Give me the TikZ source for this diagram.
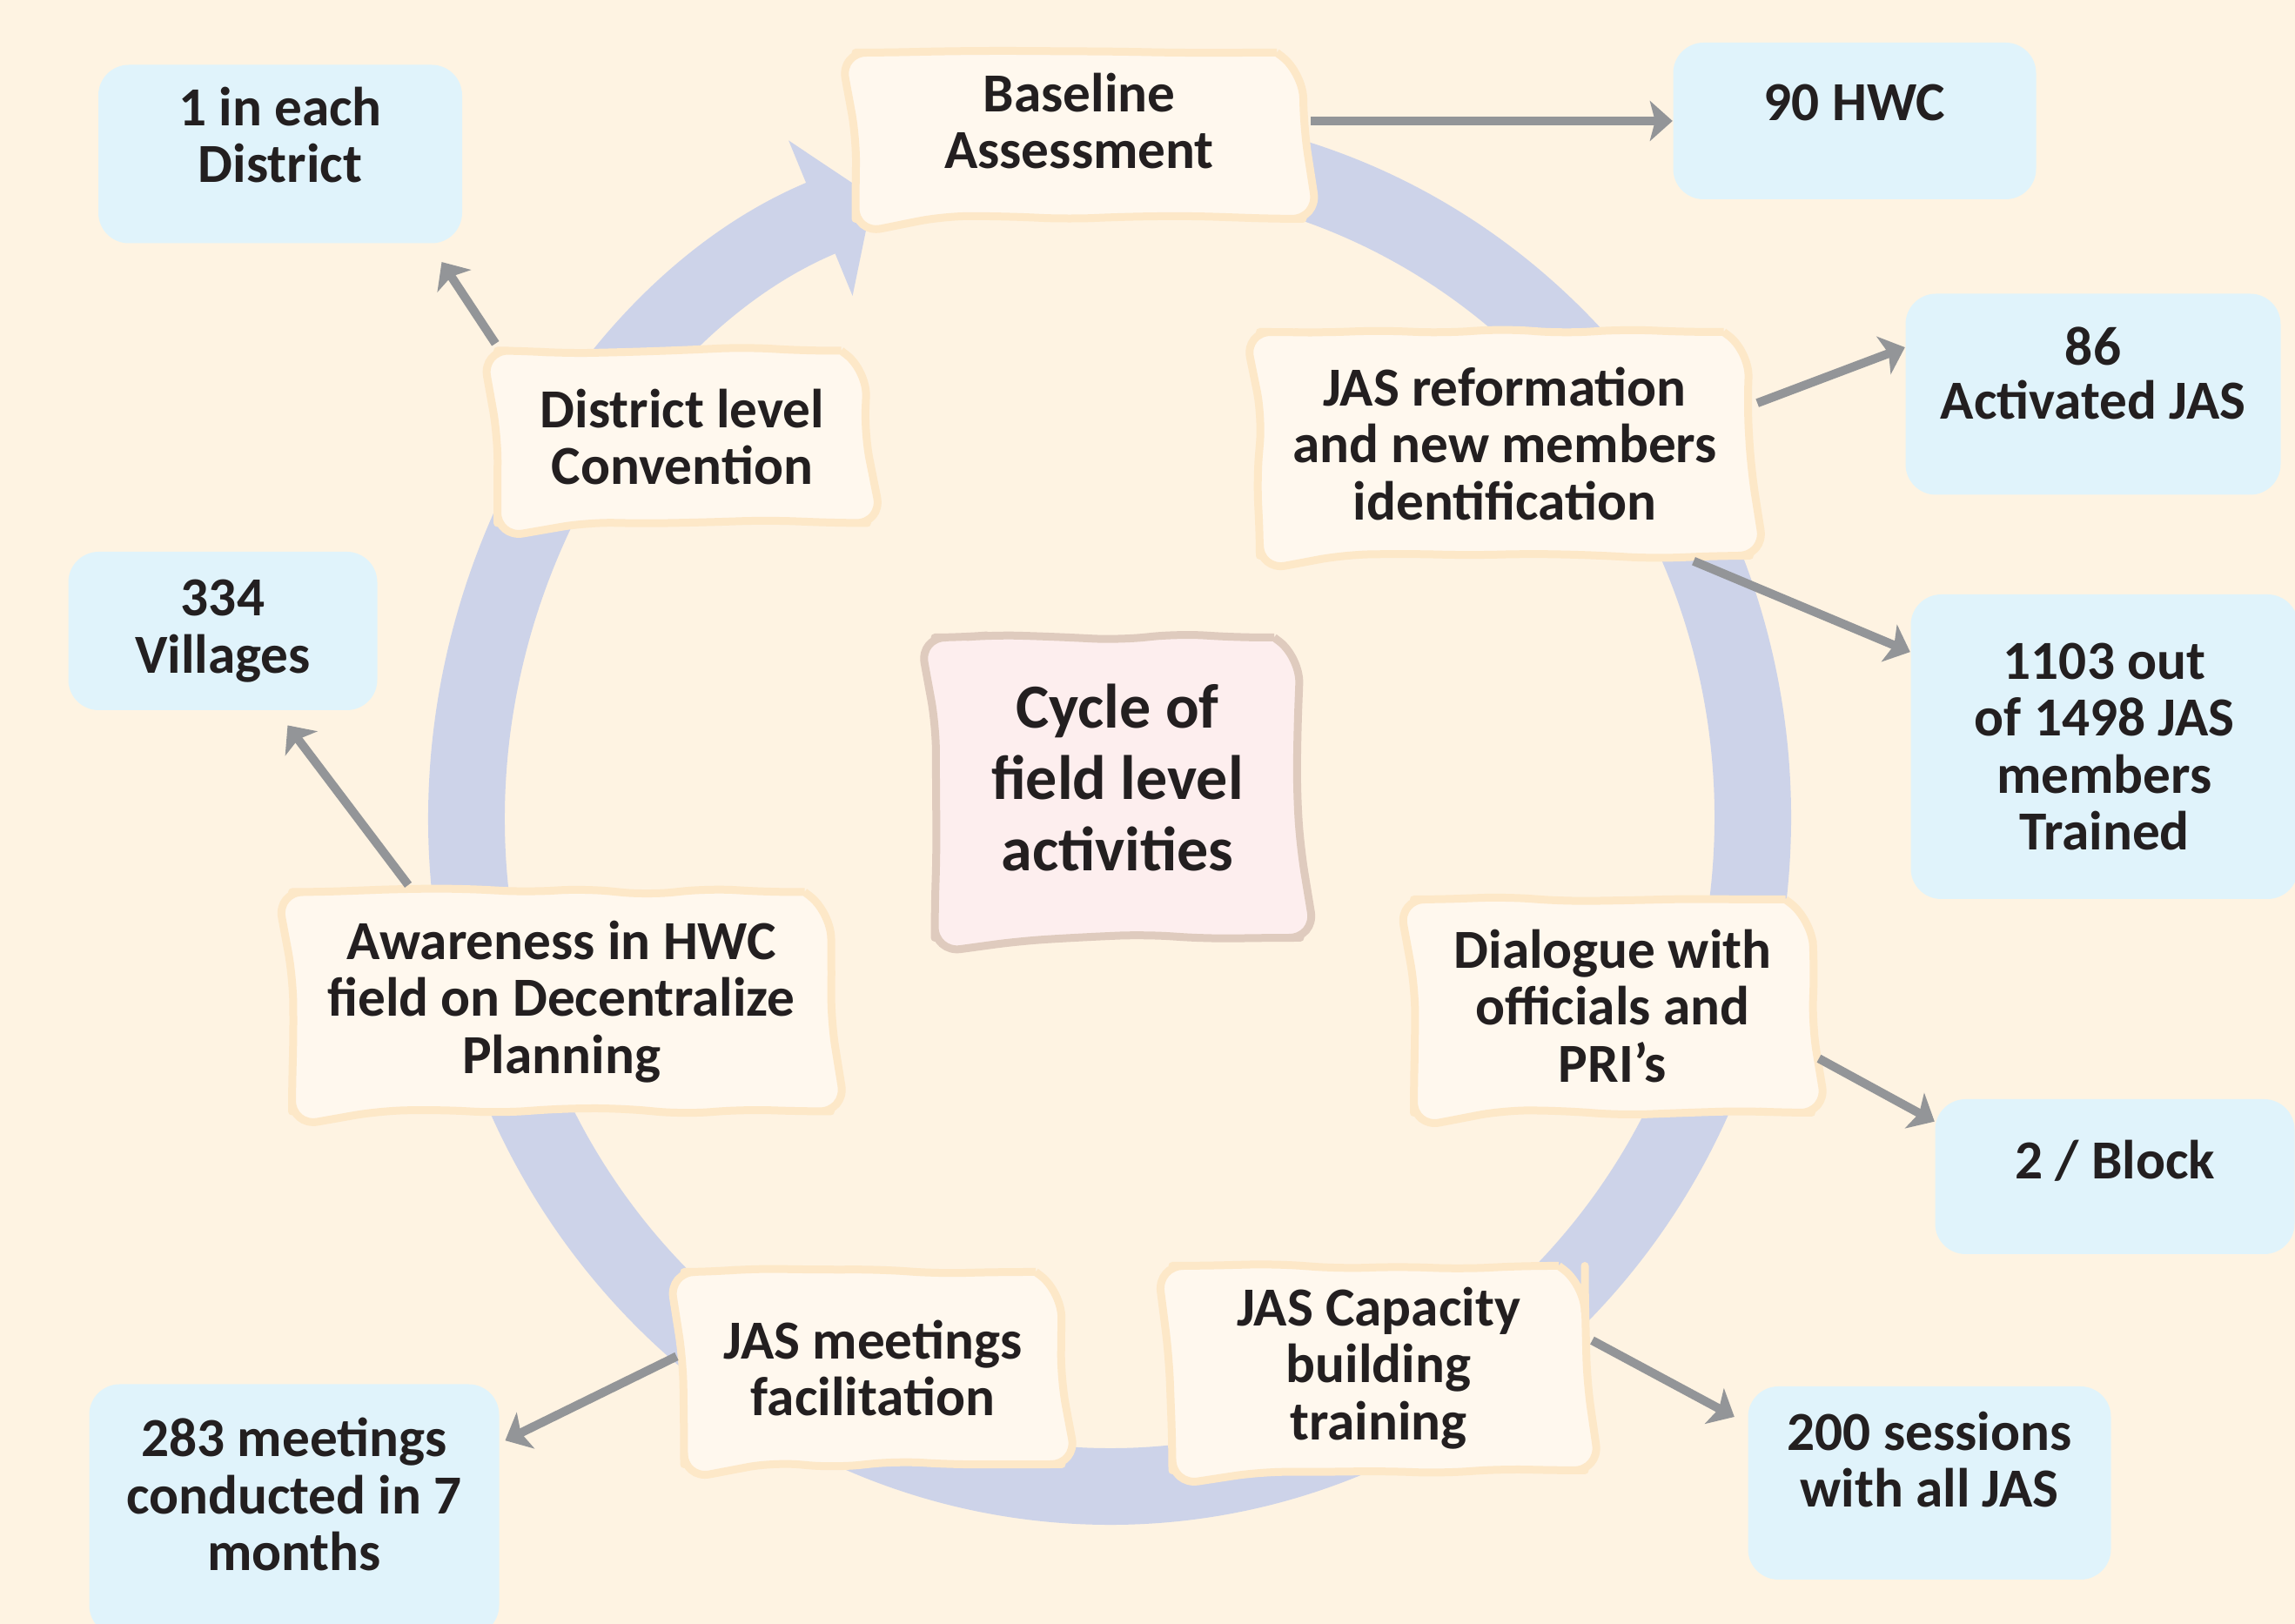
\documentclass[tikz,border=0pt]{standalone}
\usepackage{fontspec}
\setmainfont{Carlito}
\usepackage{tikz}
\usetikzlibrary{arrows.meta, decorations.pathmorphing}

\definecolor{paper}{HTML}{FEF3E2}
\definecolor{actfill}{HTML}{FFF8EE}
\definecolor{actline}{HTML}{FDE8C8}
\definecolor{hubfill}{HTML}{FDEEEE}
\definecolor{hubline}{HTML}{DFCBBE}
\definecolor{resfill}{HTML}{E0F3FB}
\definecolor{ringblue}{HTML}{CDD3E9}
\definecolor{linkgray}{HTML}{939598}
\definecolor{ink}{HTML}{231F20}

\tikzset{activity/.style = {draw = actline, fill = actfill, line width = 0.09cm, line join = round, rounded corners = 3mm, decorate, decoration = {random steps, segment length = 20pt, amplitude = 1.2pt, pre = lineto, pre length = 4mm, post = lineto, post length = 4mm}, align = center, inner sep = 0pt, text = ink, font = \bfseries\fontsize{18}{18.6}\selectfont}}
\tikzset{hub/.style = {activity, draw = hubline, fill = hubfill, font = \bfseries\fontsize{20.5}{23.4}\selectfont}}
\tikzset{result/.style = {fill = resfill, rounded corners = 3.5mm, align = center, inner sep = 0pt, text = ink, font = \bfseries\fontsize{18}{18.6}\selectfont}}
\tikzset{link/.style = {draw = linkgray, line width = 0.1cm, shorten < = 0.045cm, -{Stealth[length = 2.6mm, width = 4.6mm, inset = 0.6mm]}}}
\tikzset{ring/.style = {draw = ringblue, line width = 0.88cm, -{Triangle[length = 6.5mm, width = 19mm]}}}

\newcommand{\lift}[1]{\rule[-#1]{0pt}{0pt}}

\begin{document}
\begin{tikzpicture}
	\fill[paper] (0, 0) rectangle (26.37, -18.66);
	\useasboundingbox (0, 0) rectangle (26.37, -18.66);
	\pgfmathsetseed{11}

	\coordinate (mid) at (12.75, -9.40);
	\draw[ring] (mid) ++(85:7.39 and 7.68) arc[start angle = 85, end angle = -248.4, x radius = 7.39, y radius = 7.68];

	\node[activity, minimum width = 5.14cm, minimum height = 1.91cm] (base) at (12.40, -1.56) {Baseline\\Assessment\lift{0.34cm}};
	\node[activity, minimum width = 5.63cm, minimum height = 2.57cm] (reform) at (17.29, -5.10) {JAS reformation\\and new members\\identification};
	\node[activity, minimum width = 4.57cm, minimum height = 2.45cm] (dialogue) at (18.53, -11.56) {Dialogue with\\officials and\\PRI’s};
	\node[activity, minimum width = 4.74cm, minimum height = 2.35cm] (capacity) at (15.84, -15.72) {JAS Capacity\\building\\training};
	\node[activity, minimum width = 4.34cm, minimum height = 2.21cm] (meetings) at (10.03, -15.72) {JAS meetings\\facilitation};
	\node[activity, minimum width = 6.19cm, minimum height = 2.52cm] (awareness) at (6.45, -11.51) {Awareness in HWC\\field on Decentralize\\Planning};
	\node[activity, minimum width = 4.25cm, minimum height = 1.98cm] (convention) at (7.84, -5.02) {District level\\Convention};
	\node[hub, minimum width = 4.20cm, minimum height = 3.45cm] (cycle) at (12.84, -9.05) {Cycle of\\field level\\activities\lift{0.24cm}};

	\node[result, minimum width = 4.18cm, minimum height = 2.05cm] (district) at (3.22, -1.77) {1 in each\\District\lift{0.44cm}};
	\node[result, minimum width = 4.17cm, minimum height = 1.80cm] (hwc) at (21.31, -1.39) {90 HWC\lift{0.42cm}};
	\node[result, minimum width = 4.31cm, minimum height = 2.31cm] (activated) at (24.05, -4.53) {86\\[-1pt]Activated JAS\lift{0.48cm}};
	\node[result, minimum width = 4.45cm, minimum height = 3.50cm] (trained) at (24.18, -8.58) {1103 out\\of 1498 JAS\\members\\Trained};
	\node[result, minimum width = 3.55cm, minimum height = 1.82cm] (villages) at (2.56, -7.25) {334\\Villages};
	\node[result, minimum width = 4.13cm, minimum height = 1.78cm] (block) at (24.30, -13.52) {2 / Block\lift{0.40cm}};
	\node[result, minimum width = 4.17cm, minimum height = 2.22cm] (sessions) at (22.17, -17.04) {200 sessions\\with all JAS\lift{0.54cm}};
	\node[result, minimum width = 4.71cm, minimum height = 2.89cm] (held) at (3.38, -17.35) {283 meetings\\conducted in 7\\months\lift{0.36cm}};

	\draw[link] (base.east |- hwc.west) -- (hwc.west);
	\draw[link] (reform.9) -- (activated.166);
	\draw[link] (reform.-32) -- (trained.154);
	\draw[link] (dialogue.-14) -- (block.163);
	\draw[link, shorten > = 0.17cm] (capacity.8) -- (sessions.162);
	\draw[link, shorten > = 0.07cm] (meetings.176) -- (held.18);
	\draw[link, shorten > = 0.21cm] (awareness.143) -- (villages.-56);
	\draw[link, shorten > = 0.25cm] (convention.154) -- (district.-31);
\end{tikzpicture}
\end{document}
